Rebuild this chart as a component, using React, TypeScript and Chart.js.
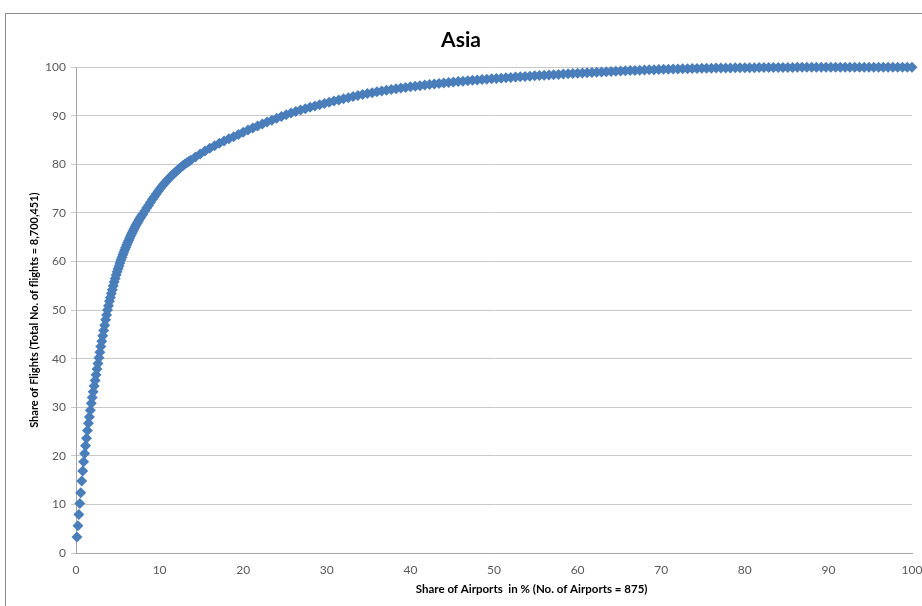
import React, { useEffect, useRef } from "react";
import { Chart, registerables } from "chart.js";

Chart.register(...registerables);

const TOTAL_AIRPORTS = 875;

// Airport rank (sorted by flights, descending) of each plotted point
const airportRanks = [
  1, 2, 3, 4, 5, 6, 7, 8, 9, 10, 11, 12, 13, 14, 15, 16, 17, 18, 19, 20,
  21, 22, 23, 24, 25, 26, 27, 28, 29, 30, 31, 32, 33,
  34, 35, 36, 37, 38, 39, 40, 41, 42, 43, 44, 45, 46, 47,
  48, 49, 50, 51, 52, 53, 54, 55, 56, 57, 58, 59, 60, 61, 62, 63, 64, 65, 66, 67, 68, 69, 70,
  72, 74, 76, 78, 80, 82, 84, 86, 88, 90, 92, 94, 96, 98, 100, 102, 104, 106, 108, 110, 112, 114, 116, 118, 120,
  125, 130, 135, 140, 145, 150, 155, 160, 165, 170,
  175, 180, 185, 190, 195, 200, 205, 210, 215, 220,
  225, 230, 235, 240, 245, 250, 255, 260, 265, 270,
  275, 280, 285, 290, 295, 300, 305, 310, 315, 320,
  325, 330, 335, 340, 345, 350, 355, 360, 365, 370,
  375, 380, 385, 390, 395, 400, 405, 410, 415, 420,
  425, 430, 435, 440, 445, 450, 455, 460, 465, 470,
  475, 480, 485, 490, 495, 500, 505, 510, 515, 520,
  525, 530, 535, 540, 545, 550, 555, 560, 565, 570,
  575, 580, 585, 590, 595, 600, 605, 610, 615, 620,
  625, 630, 635, 640, 645, 650, 655, 660, 665, 670,
  675, 680, 685, 690, 695, 700, 705, 710, 715, 720,
  725, 730, 735, 740, 745, 750, 755, 760, 765, 770,
  775, 780, 785, 790, 795, 800, 805, 810, 815, 820,
  825, 830, 835, 840, 845, 850, 855, 860, 865, 870,
  875,
];

// Cumulative share of flights (%) up to that airport rank
const flightShare = [
  3.3, 5.6, 7.9, 10.2, 12.4, 14.8, 16.9, 18.8, 20.5, 22.1, 23.6, 25.2, 26.7, 28.0, 29.4, 30.8, 32.0, 33.2, 34.4, 35.5,
  36.7, 37.9, 39.0, 40.2, 41.3, 42.5, 43.6, 44.7, 45.8, 46.9, 48.0, 49.0, 50.0,
  50.9, 51.8, 52.6, 53.4, 54.2, 55.0, 55.8, 56.5, 57.2, 57.9, 58.5, 59.1, 59.7, 60.3,
  60.85, 61.4, 61.9, 62.4, 62.9, 63.4, 63.85, 64.3, 64.75, 65.2, 65.6, 66.0, 66.4, 66.8, 67.2, 67.55, 67.9, 68.25, 68.6, 68.9, 69.2, 69.5, 69.8,
  70.4, 71.0, 71.6, 72.2, 72.8, 73.35, 73.9, 74.45, 75.0, 75.5, 75.95, 76.4, 76.85, 77.25, 77.65, 78.05, 78.4, 78.75, 79.1, 79.45, 79.75, 80.05, 80.35, 80.6, 80.85,
  81.5, 82.15, 82.75, 83.3, 83.85, 84.35, 84.8, 85.25, 85.7, 86.15,
  86.6, 87.05, 87.5, 87.9, 88.3, 88.7, 89.1, 89.5, 89.85, 90.2,
  90.55, 90.9, 91.2, 91.47, 91.74, 92.0, 92.26, 92.52, 92.77, 93.02,
  93.26, 93.5, 93.73, 93.95, 94.16, 94.37, 94.57, 94.76, 94.94, 95.11,
  95.27, 95.42, 95.56, 95.7, 95.83, 95.96, 96.08, 96.2, 96.32, 96.43,
  96.54, 96.65, 96.75, 96.85, 96.95, 97.04, 97.13, 97.22, 97.3, 97.38,
  97.46, 97.54, 97.61, 97.68, 97.75, 97.82, 97.89, 97.96, 98.03, 98.1,
  98.16, 98.22, 98.28, 98.34, 98.4, 98.46, 98.52, 98.58, 98.64, 98.7,
  98.75, 98.8, 98.85, 98.9, 98.95, 99.0, 99.05, 99.1, 99.15, 99.2,
  99.25, 99.3, 99.34, 99.38, 99.42, 99.46, 99.5, 99.53, 99.56, 99.59,
  99.62, 99.65, 99.68, 99.7, 99.72, 99.74, 99.76, 99.78, 99.8, 99.82,
  99.84, 99.85, 99.86, 99.87, 99.88, 99.89, 99.9, 99.91, 99.92, 99.93,
  99.93, 99.94, 99.95, 99.95, 99.96, 99.96, 99.97, 99.97, 99.97, 99.98,
  99.98, 99.98, 99.98, 99.99, 99.99, 99.99, 99.99, 99.99, 99.99, 100,
  100, 100, 100, 100, 100, 100, 100, 100, 100, 100,
  100,
];

const chartTitle = "Asia";
const xAxisTitle = "Share of Airports  in % (No. of Airports = 875)";
const yAxisTitle = "Share of Flights (Total No. of flights = 8,700,451)";

const FONT = "Lato, 'Open Sans', sans-serif";
const MARKER = "#4A7EBB";

// Draws the x-axis title where the original places it (shifted right of centre)
const xTitlePlugin = {
  id: "xTitlePlugin",
  afterDraw(chart: any) {
    const { ctx, chartArea } = chart;
    ctx.save();
    ctx.font = `bold 11.5px ${FONT}`;
    ctx.fillStyle = "#000";
    ctx.textAlign = "center";
    ctx.textBaseline = "middle";
    const x = chartArea.left + (chartArea.right - chartArea.left) * 0.545;
    ctx.fillText(xAxisTitle, x, chartArea.bottom + 36);
    ctx.restore();
  },
};

export default function App() {
  const canvasRef = useRef<HTMLCanvasElement | null>(null);

  useEffect(() => {
    const canvas = canvasRef.current;
    if (!canvas) return;
    const points = airportRanks.map((r, i) => ({
      x: (r / TOTAL_AIRPORTS) * 100,
      y: flightShare[i],
    }));
    const chart = new Chart(canvas, {
      type: "scatter",
      data: {
        datasets: [
          {
            data: points,
            pointStyle: "rectRot",
            pointRadius: 5.5,
            pointBorderWidth: 0,
            backgroundColor: MARKER,
            borderColor: MARKER,
            showLine: false,
            clip: false,
          },
        ],
      },
      options: {
        responsive: false,
        animation: false,
        layout: { padding: { left: 0, right: 0, top: 0, bottom: 0 } },
        plugins: {
          legend: { display: false },
          tooltip: { enabled: false },
          title: {
            display: true,
            text: chartTitle,
            color: "#000",
            font: { family: FONT, size: 21, weight: "bold", lineHeight: 1.2 },
            padding: { top: 28, bottom: 14 },
          },
        },
        scales: {
          x: {
            type: "linear",
            min: 0,
            max: 100,
            afterFit: (scale: any) => {
              scale.height = 53;
              scale.paddingRight = 10;
              scale.paddingLeft = 4;
            },
            ticks: {
              stepSize: 10,
              color: "#595959",
              padding: 10,
              maxRotation: 0,
              font: { family: FONT, size: 12 },
            },
            grid: { display: false, drawTicks: false },
            border: { display: true, color: "#A6A6A6", width: 1 },
            title: { display: false },
          },
          y: {
            type: "linear",
            min: 0,
            max: 100,
            afterFit: (scale: any) => {
              scale.width = 76;
            },
            ticks: {
              stepSize: 10,
              color: "#595959",
              padding: 5,
              font: { family: FONT, size: 12 },
            },
            grid: {
              display: true,
              color: "#C8C8C8",
              drawTicks: true,
              tickLength: 5,
            },
            border: { display: true, color: "#A6A6A6", width: 1 },
            title: {
              display: true,
              text: yAxisTitle,
              color: "#000",
              font: { family: FONT, size: 11, weight: "bold", lineHeight: 1.2 },
              padding: { top: 28, bottom: 0 },
            },
          },
        },
      },
      plugins: [xTitlePlugin],
    });
    return () => chart.destroy();
  }, []);

  return (
    <div
      style={{
        position: "fixed",
        left: 0,
        top: 0,
        width: 922,
        height: 606,
        overflow: "hidden",
        background: "#fff",
      }}
    >
      <div
        style={{
          position: "absolute",
          left: 5,
          top: 13,
          width: 940,
          height: 640,
          border: "1px solid #8C8C8C",
          boxSizing: "border-box",
        }}
      />
      <canvas
        ref={canvasRef}
        width={922}
        height={606}
        style={{ position: "absolute", left: 0, top: 0, display: "block" }}
      />
    </div>
  );
}
